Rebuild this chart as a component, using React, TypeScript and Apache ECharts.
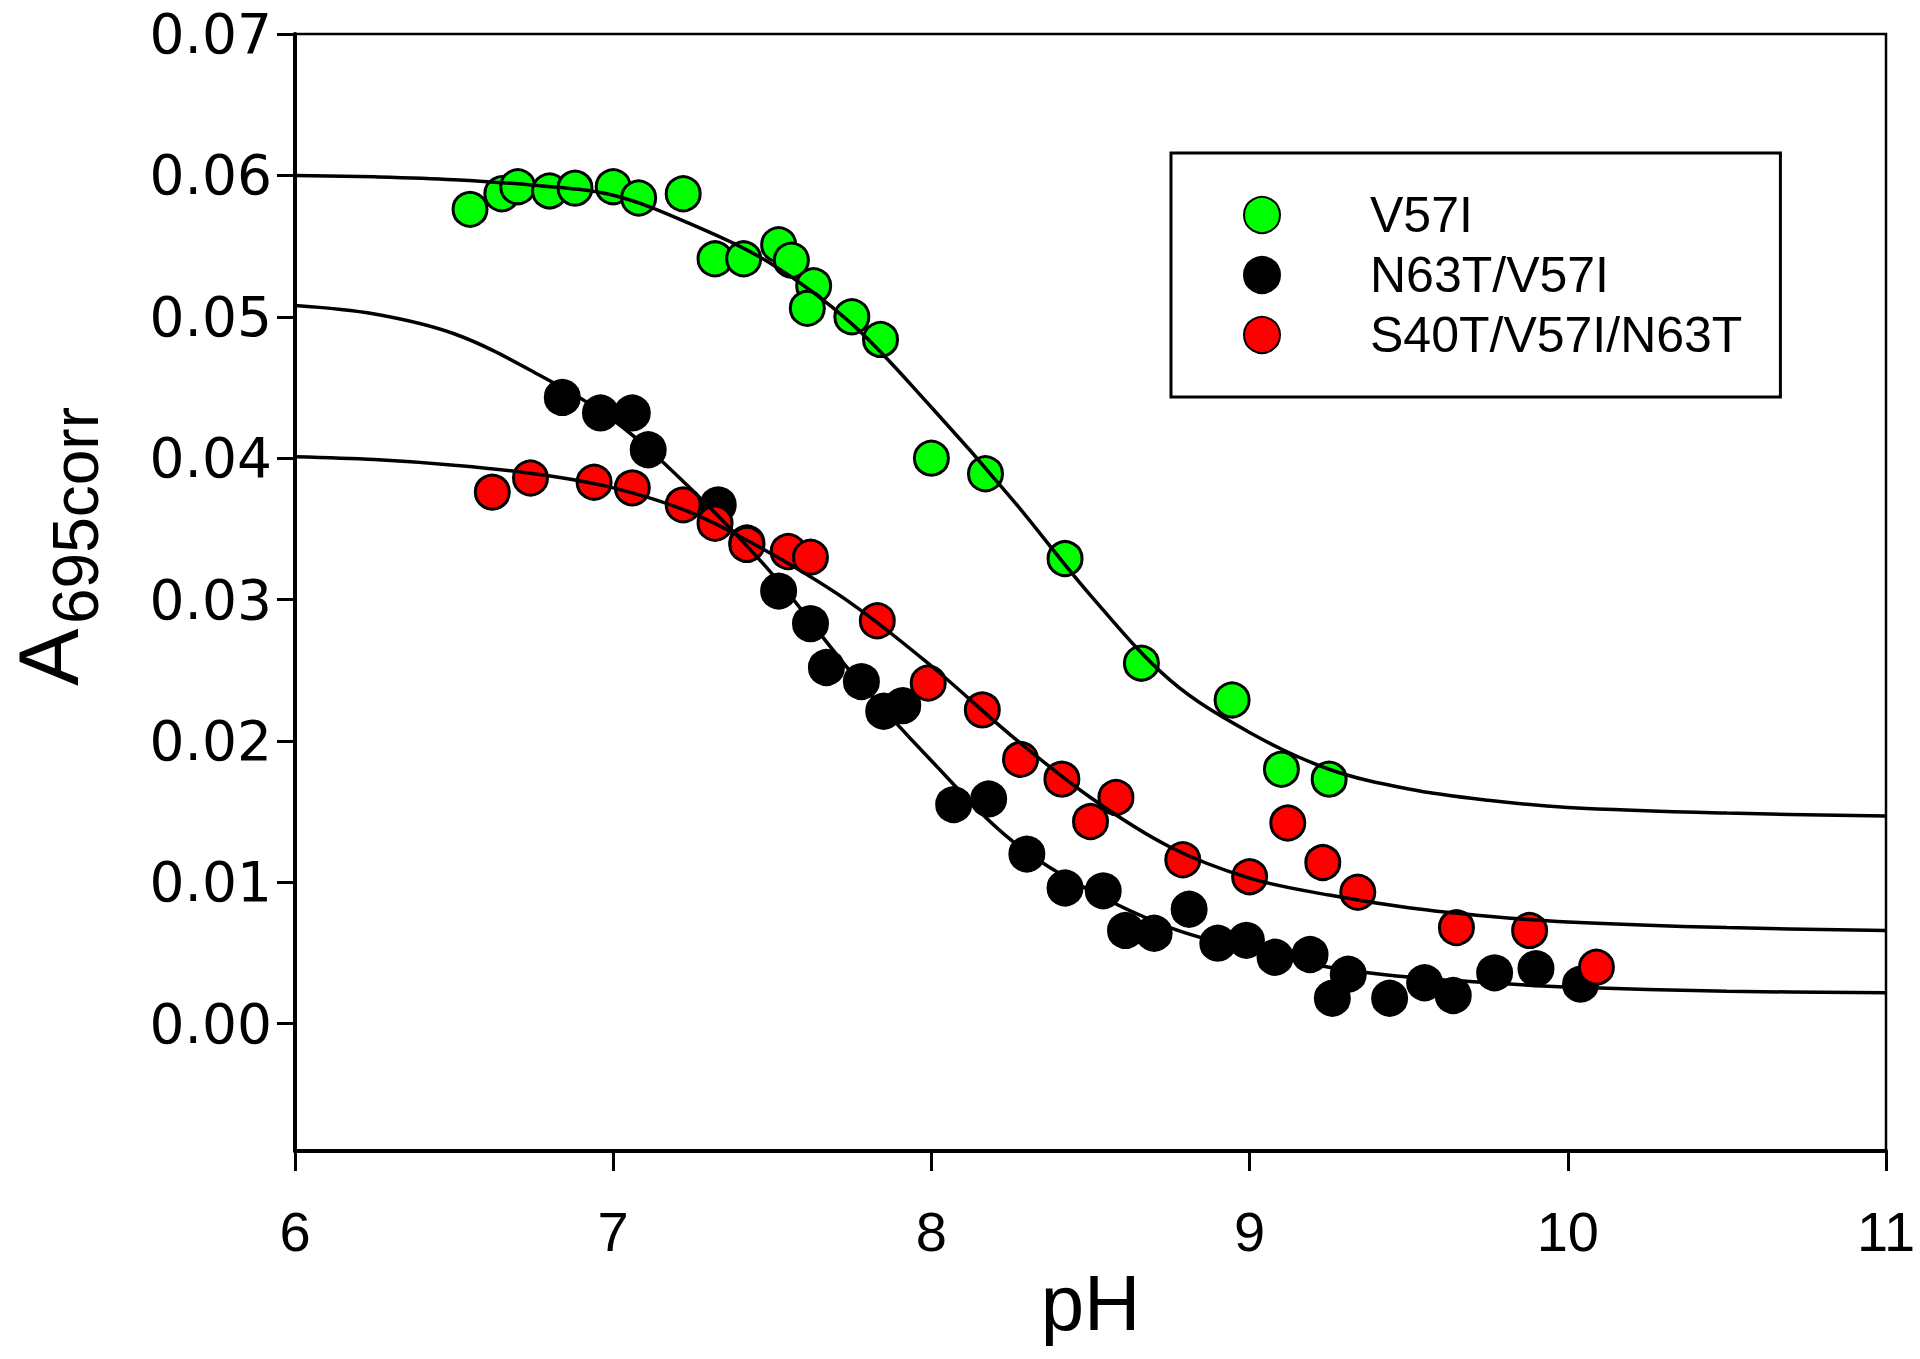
import React, { useEffect, useRef } from "react";
import * as echarts from "echarts";

// ---- data ----
const xTicks = [6, 7, 8, 9, 10, 11];
const yTicks = [0, 0.01, 0.02, 0.03, 0.04, 0.05, 0.06, 0.07];

const seriesNames = ["V57I", "N63T/V57I", "S40T/V57I/N63T"];

const v57i = [
  [6.55, 0.0576], [6.65, 0.0587], [6.7, 0.0592], [6.8, 0.0589], [6.88, 0.0591],
  [7.0, 0.0592], [7.08, 0.0584], [7.22, 0.0587], [7.32, 0.0541], [7.41, 0.0541],
  [7.52, 0.0551], [7.56, 0.054], [7.63, 0.0522], [7.61, 0.0506], [7.75, 0.05],
  [7.84, 0.0484], [8.0, 0.04], [8.17, 0.0389], [8.42, 0.0329], [8.66, 0.0255],
  [8.945, 0.0229], [9.1, 0.018], [9.25, 0.0173],
];

const n63tV57i = [
  [6.84, 0.0443], [6.96, 0.0432], [7.06, 0.0432], [7.11, 0.0406], [7.33, 0.0367],
  [7.42, 0.034], [7.52, 0.0306], [7.62, 0.0283], [7.67, 0.0252], [7.78, 0.0242],
  [7.85, 0.0221], [7.91, 0.0225], [8.07, 0.0155], [8.18, 0.0159], [8.3, 0.012],
  [8.42, 0.0096], [8.54, 0.0094], [8.61, 0.0066], [8.7, 0.0064], [8.81, 0.0081],
  [8.9, 0.0057], [8.99, 0.0059], [9.08, 0.0047], [9.19, 0.0049], [9.26, 0.0018],
  [9.31, 0.0035], [9.44, 0.0018], [9.55, 0.0029], [9.64, 0.002], [9.77, 0.0036],
  [9.9, 0.0039], [10.04, 0.0028],
];

const s40tV57iN63t = [
  [6.62, 0.0376], [6.74, 0.0386], [6.94, 0.0383], [7.06, 0.0379], [7.22, 0.0367],
  [7.32, 0.0354], [7.42, 0.0339], [7.55, 0.0334], [7.62, 0.033], [7.83, 0.0285],
  [7.99, 0.0241], [8.16, 0.0222], [8.28, 0.0187], [8.41, 0.0173], [8.5, 0.0143],
  [8.58, 0.016], [8.79, 0.0116], [9.0, 0.0104], [9.12, 0.0142], [9.23, 0.0114],
  [9.34, 0.0093], [9.65, 0.0068], [9.88, 0.0066], [10.09, 0.004],
];

// fitted curves
const fitPH = [6, 6.25, 6.5, 6.75, 7, 7.25, 7.5, 7.75, 8, 8.25, 8.5, 8.75, 9, 9.25, 9.5, 9.75, 10, 10.5, 11];
const fitV57I = [0.06, 0.0599, 0.0597, 0.0593, 0.0586, 0.0565, 0.0537, 0.0495, 0.0436, 0.0372, 0.0303, 0.0243, 0.0206, 0.018, 0.0166, 0.0158, 0.0153, 0.0149, 0.0147];
const fitN63T = [0.0508, 0.0502, 0.0488, 0.0461, 0.0427, 0.0377, 0.0318, 0.0248, 0.0186, 0.013, 0.0094, 0.0068, 0.0052, 0.004, 0.0033, 0.0029, 0.0026, 0.0023, 0.0022];
const fitS40T = [0.0401, 0.0399, 0.0395, 0.0389, 0.0379, 0.0361, 0.0332, 0.0297, 0.0253, 0.0204, 0.016, 0.0125, 0.0103, 0.0091, 0.0082, 0.0076, 0.0072, 0.0068, 0.0066];

const colors = ["#00ff00", "#000000", "#ff0000"];
const FONT = "'Liberation Sans', Arial, Helvetica, sans-serif";

export default function App() {
  const ref = useRef<HTMLDivElement>(null);

  useEffect(() => {
    document.body.style.margin = "0";
    if (!ref.current) return;
    const chart = echarts.init(ref.current, null, { renderer: "svg" });

    const scatterData = [v57i, n63tV57i, s40tV57iN63t];
    const fits = [fitV57I, fitN63T, fitS40T];

    const scatters = scatterData.map((d, i) => ({
      type: "scatter",
      name: seriesNames[i],
      data: d,
      symbol: "circle",
      symbolSize: 34,
      itemStyle: { color: colors[i], borderColor: "#000", borderWidth: 3, opacity: 1 },
      silent: true,
      z: 2,
    }));

    const lines = fits.map((f, i) => ({
      type: "line",
      name: "fit" + i,
      data: fitPH.map((x, j) => [x, f[j]]),
      smooth: 0.35,
      symbol: "none",
      lineStyle: { color: "#000", width: 3.5 },
      silent: true,
      z: 3,
    }));

    chart.setOption({
      animation: false,
      backgroundColor: "#fff",
      grid: {
        left: 295,
        right: 34,
        top: 34,
        bottom: 208,
        show: true,
        borderColor: "#000",
        borderWidth: 2.5,
        outerBoundsMode: "none",
      },
      legend: {
        data: seriesNames,
        orient: "vertical",
        left: 1171,
        top: 153,
        padding: [32, 38, 32, 72],
        itemWidth: 36,
        itemHeight: 36,
        itemGap: 0,
        borderColor: "#000",
        borderWidth: 3,
        backgroundColor: "#fff",
        icon: "circle",
        selectedMode: false,
        textStyle: {
          fontSize: 50,
          fontFamily: FONT,
          color: "#000",
          lineHeight: 60,
          padding: [0, 0, 0, 85],
        },
      },
      xAxis: {
        type: "value",
        min: 6,
        max: 11,
        interval: 1,
        name: "pH",
        nameLocation: "middle",
        nameGap: 110,
        nameTextStyle: { fontSize: 78, fontFamily: FONT, color: "#000" },
        axisLine: { show: true, onZero: false, lineStyle: { color: "#000", width: 4 } },
        axisTick: { show: true, length: 20, lineStyle: { color: "#000", width: 3 }, customValues: xTicks },
        axisLabel: {
          fontSize: 56,
          fontFamily: "'Liberation Sans Narrow', " + FONT,
          color: "#000",
          margin: 52,
          customValues: xTicks,
        },
        splitLine: { show: false },
      },
      yAxis: {
        type: "value",
        min: -0.009,
        max: 0.07,
        axisLine: { show: true, onZero: false, lineStyle: { color: "#000", width: 4 } },
        axisTick: { show: true, length: 18, lineStyle: { color: "#000", width: 3 }, customValues: yTicks },
        axisLabel: {
          fontSize: 55,
          fontFamily: "'DejaVu Sans', " + FONT,
          color: "#000",
          margin: 23,
          customValues: yTicks,
          formatter: (v: number) => v.toFixed(2),
        },
        splitLine: { show: false },
      },
      graphic: [
        {
          type: "text",
          x: 48,
          y: 686,
          rotation: Math.PI / 2,
          style: {
            text: "A",
            fontSize: 86,
            fontFamily: FONT,
            fill: "#000",
            align: "left",
            verticalAlign: "middle",
          },
        },
        {
          type: "text",
          x: 76,
          y: 624,
          rotation: Math.PI / 2,
          style: {
            text: "695corr",
            fontSize: 64,
            fontFamily: FONT,
            fill: "#000",
            align: "left",
            verticalAlign: "middle",
          },
        },
      ],
      series: [...scatters, ...lines],
    });

    return () => chart.dispose();
  }, []);

  return <div ref={ref} style={{ width: 1920, height: 1359 }} />;
}
